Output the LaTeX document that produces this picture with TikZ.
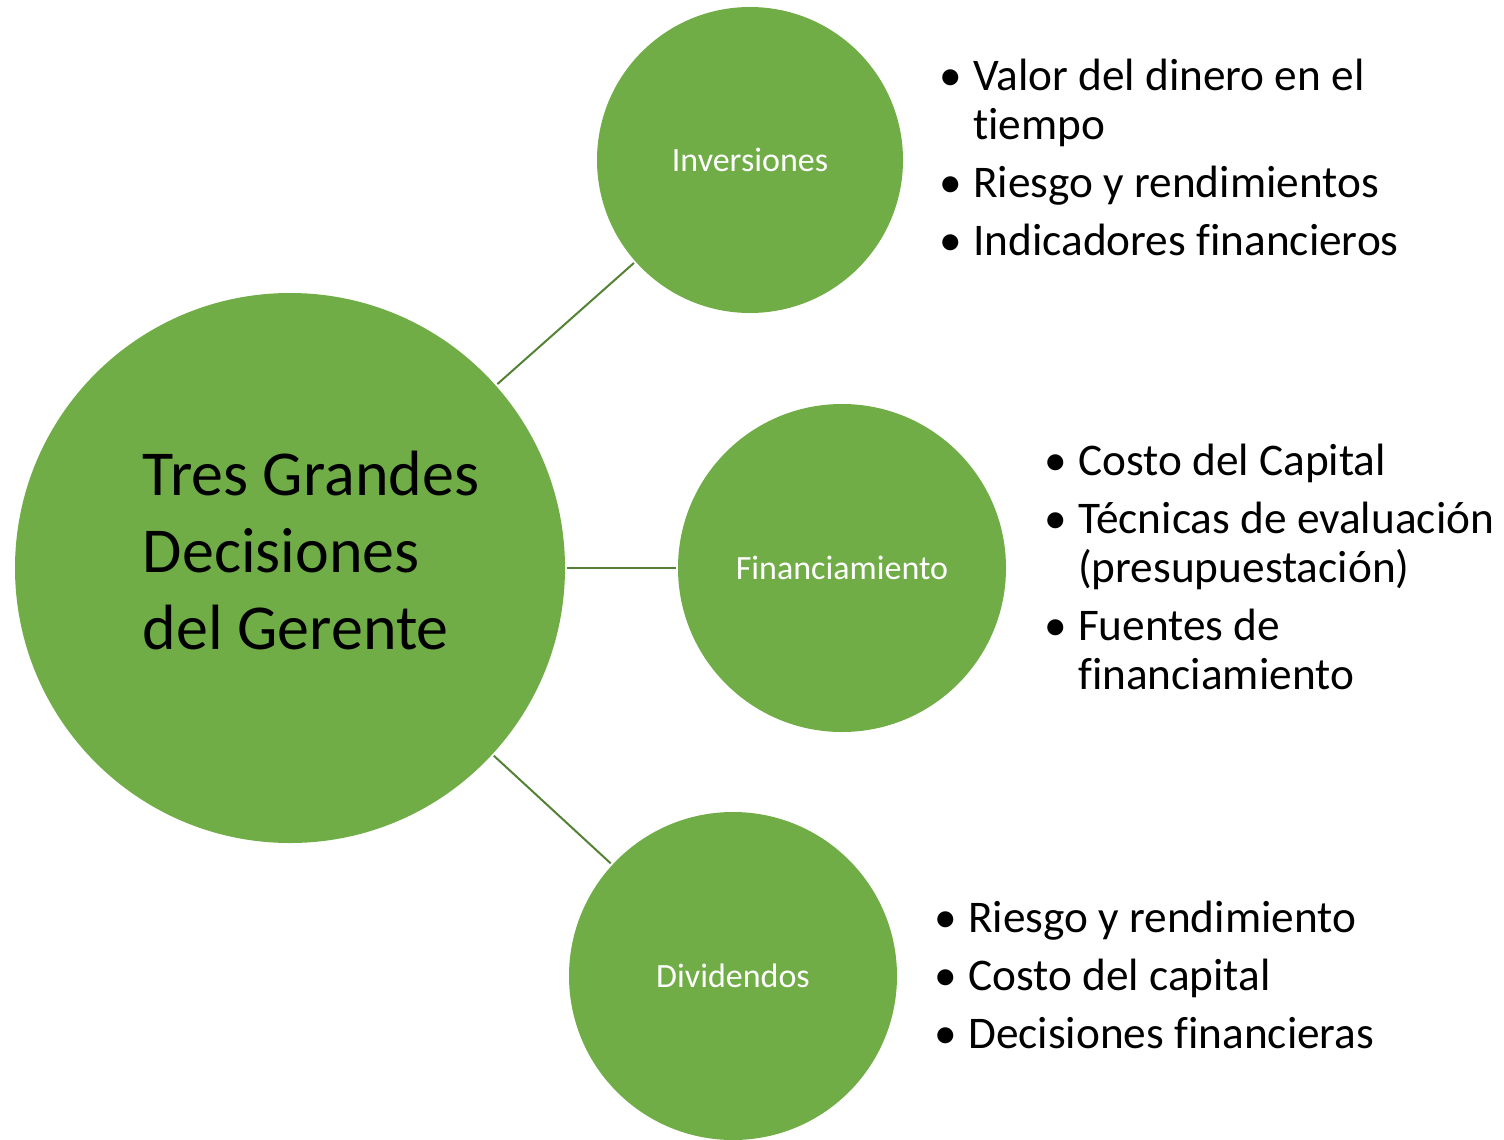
\documentclass[tikz,border=0pt]{standalone}
\usepackage{fontspec}
\setmainfont{Carlito}[Ligatures=NoCommon]
\usepackage{tikz}
\definecolor{leafgreen}{HTML}{70AD47}
\definecolor{darkleaf}{HTML}{548235}
\newcommand{\bitem}[1]{\hangindent=34pt\hangafter=1\noindent\makebox[34pt][l]{\textbullet}#1\par}

\begin{document}
\begin{tikzpicture}[x=1pt,y=-1pt,
  bubble/.style={circle,fill=leafgreen,inner sep=0pt,text=white,font=\fontsize{34}{40}\selectfont},
  link/.style={draw=darkleaf,line width=2pt,shorten <=2pt,shorten >=2pt},
  points/.style={anchor=base west,text width=540pt,align=flush left,inner sep=0pt,
    font=\fontsize{45.3}{49}\selectfont,execute at begin node={\setlength{\parskip}{9pt}}}]
\useasboundingbox (0,0) rectangle (1504,1140);
\coordinate (c0) at (290,568);
\coordinate (c1) at (750,160);
\coordinate (c2) at (842,568);
\coordinate (c3) at (733,976);

% the big circle
\node[bubble,minimum size=550pt,
  label={[text=black,align=left,xshift=21pt,yshift=17pt,
    font=\fontsize{64}{77}\selectfont]center:Tres Grandes\\Decisiones\\del Gerente}] (main) at (c0) {};
% the three small circles
\node[bubble,minimum size=306pt] (inv) at (c1) {Inversiones};
\node[bubble,minimum size=328pt] (fin) at (c2) {Financiamiento};
\node[bubble,minimum size=328pt] (div) at (c3) {Dividendos};
% lines joining them
\foreach \n in {inv,fin,div}
  \draw[link] (main) -- (\n);
% the bullet lists
\node[points] (invlist) at (939,90) {\bitem{Valor del dinero en el\newline tiempo}\bitem{Riesgo y rendimientos}\bitem{Indicadores financieros}};
\node[points] (finlist) at (1044,475) {\bitem{Costo del Capital}\bitem{Técnicas de evaluación\newline (presupuestación)}\bitem{Fuentes de\newline financiamiento}};
\node[points] (divlist) at (934,932) {\bitem{Riesgo y rendimiento}\bitem{Costo del capital}\bitem{Decisiones financieras}};
\end{tikzpicture}
\end{document}
